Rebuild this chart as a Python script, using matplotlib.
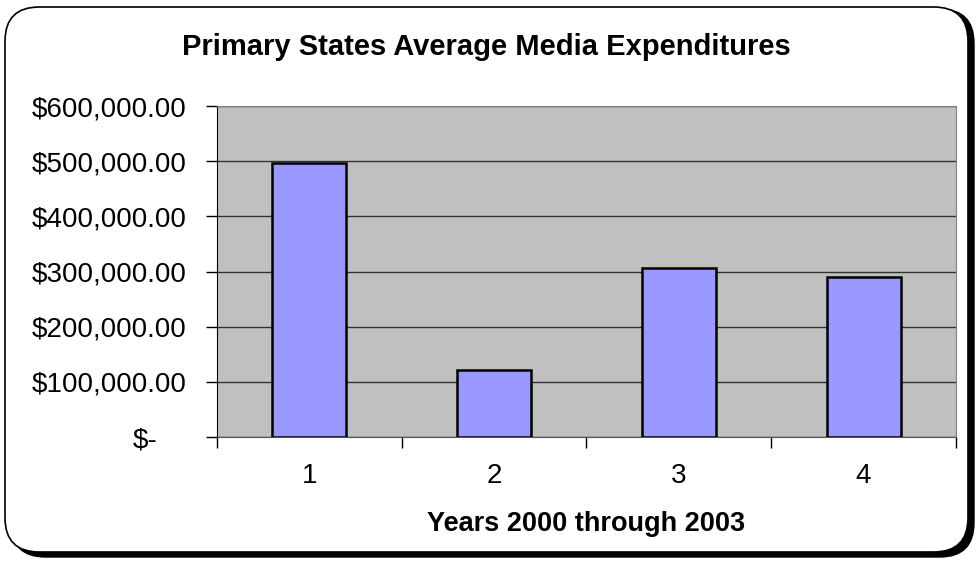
import matplotlib
matplotlib.use("Agg")
import matplotlib.pyplot as plt
from matplotlib.patches import FancyBboxPatch
from matplotlib.transforms import ScaledTranslation
import numpy as np

plt.rcParams['font.family'] = ['Liberation Sans', 'DejaVu Sans']

# donnees
categories = ["1", "2", "3", "4"]
depenses = [497000, 121000, 307000, 290000]
yticks = [0, 100000, 200000, 300000, 400000, 500000, 600000]
ylabels = ["$-", "$100,000.00", "$200,000.00", "$300,000.00",
           "$400,000.00", "$500,000.00", "$600,000.00"]

fig = plt.figure(figsize=(9.79, 5.61), dpi=100)

# cadre arrondi avec ombre
shadow = FancyBboxPatch((11 / 979, 4 / 561), 963 / 979, 548 / 561,
                        boxstyle="round,pad=0,rounding_size=0.035",
                        transform=fig.transFigure, facecolor="black",
                        edgecolor="black", linewidth=1, zorder=0,
                        mutation_aspect=979 / 561)
frame = FancyBboxPatch((5 / 979, 9 / 561), 963 / 979, 545 / 561,
                       boxstyle="round,pad=0,rounding_size=0.035",
                       transform=fig.transFigure, facecolor="white",
                       edgecolor="black", linewidth=1.2, zorder=1,
                       mutation_aspect=979 / 561)
fig.patches.extend([shadow, frame])

ax = fig.add_axes([217 / 979, 1 - 437 / 561, 739 / 979, 331 / 561])
ax.set_zorder(2)
ax.set_facecolor("#C0C0C0")

x = np.arange(len(categories))
ax.bar(x, depenses, width=0.4, color="#9999FF", edgecolor="black",
       linewidth=1.8, zorder=3)

ax.set_xlim(-0.5, len(categories) - 0.5)
ax.set_ylim(0, 600000)
ax.set_yticks(yticks)
ax.set_yticklabels(ylabels, fontsize=20)
ax.yaxis.grid(True, color="#333333", linewidth=1, zorder=1)
ax.set_axisbelow(True)

# ticks entre les categories
ax.set_xticks(np.arange(-0.5, len(categories), 1.0))
ax.set_xticklabels([])
ax.set_xticks(x, minor=True)
ax.set_xticklabels(categories, minor=True, fontsize=20)
ax.tick_params(axis="x", which="minor", length=0, pad=19)
ax.tick_params(axis="x", which="major", length=8, direction="out",
               color="black", width=1)
ax.tick_params(axis="y", length=8, direction="out", width=1, pad=14)

# "$-" decale a gauche comme le format comptable
lbl0 = ax.get_yticklabels()[0]
lbl0.set_transform(lbl0.get_transform() + ScaledTranslation(-29 / 100, 0, fig.dpi_scale_trans))

for s in ["top", "right"]:
    ax.spines[s].set_color("#808080")
ax.spines["left"].set_color("black")
ax.spines["bottom"].set_color("#555555")

fig.text(486 / 979, 1 - 47 / 561, "Primary States Average Media Expenditures",
         ha="center", va="center", fontsize=21, fontweight="bold", zorder=3)
fig.text(586 / 979, 1 - 524 / 561, "Years 2000 through 2003",
         ha="center", va="center", fontsize=19.5, fontweight="bold", zorder=3)

fig.savefig("out.png", dpi=100)
